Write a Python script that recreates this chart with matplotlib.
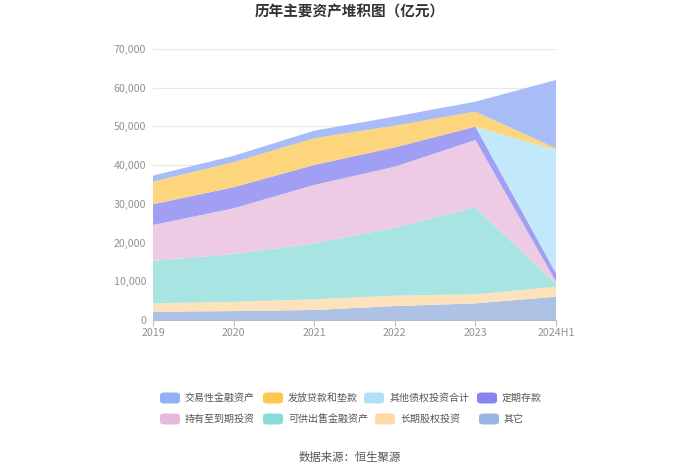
import matplotlib
matplotlib.use("Agg")
import matplotlib.pyplot as plt
from matplotlib.patches import FancyBboxPatch
from matplotlib.ticker import FuncFormatter

plt.rcParams['font.family'] = ['Noto Sans CJK SC', 'DejaVu Sans']

years = ['2019', '2020', '2021', '2022', '2023', '2024H1']
series_names = ['其它', '长期股权投资', '可供出售金融资产', '持有至到期投资',
                '定期存款', '其他债权投资合计', '发放贷款和垫款', '交易性金融资产']
other = [2150, 2300, 2600, 3600, 4300, 6020]
long_equity = [2150, 2400, 2740, 2700, 2330, 2580]
afs = [10950, 12350, 14460, 17550, 22470, 700]
htm = [9300, 11800, 15100, 15750, 17400, 600]
term_dep = [5350, 5450, 5150, 5000, 3450, 2200]
other_debt = [0, 0, 0, 0, 0, 31800]
loans = [5850, 6450, 6900, 5600, 3880, 450]
trading = [1550, 1650, 1950, 2350, 2570, 17650]

values = [other, long_equity, afs, htm, term_dep, other_debt, loans, trading]
legend_colors = {
    '交易性金融资产': '#86a6f5',
    '发放贷款和垫款': '#fdc13a',
    '其他债权投资合计': '#a8ddf8',
    '定期存款': '#7978ee',
    '持有至到期投资': '#e4b1d8',
    '可供出售金融资产': '#7dd6d4',
    '长期股权投资': '#fed49c',
    '其它': '#8facde',
}
area_colors = {
    '交易性金融资产': '#a8bcf7',
    '发放贷款和垫款': '#fdd57c',
    '其他债权投资合计': '#c2e9f9',
    '定期存款': '#a09ff4',
    '持有至到期投资': '#eecbe5',
    '可供出售金融资产': '#a8e4e2',
    '长期股权投资': '#fee2bb',
    '其它': '#aec2e6',
}

fig = plt.figure(figsize=(7.0, 4.74), dpi=100)
ax = fig.add_axes([153/700, 1-320/474, (556-153)/700, (320-49)/474])

x = list(range(len(years)))
ax.stackplot(x, *values, colors=[area_colors[n] for n in series_names],
             linewidth=0, zorder=2)

ax.set_xlim(0, len(years)-1)
ax.set_ylim(0, 70000)
ax.set_yticks(range(0, 70001, 10000))
ax.yaxis.set_major_formatter(FuncFormatter(lambda v, p: f'{int(v):,}'))
ax.set_xticks(x)
ax.set_xticklabels(years)
ax.grid(axis='y', color='#e8e8ec', linewidth=0.8, zorder=0)
ax.set_axisbelow(True)
for s in ['left', 'right', 'top']:
    ax.spines[s].set_visible(False)
ax.spines['bottom'].set_color('#b8bcc6')
ax.spines['bottom'].set_zorder(5)
ax.tick_params(axis='y', length=0, pad=5, labelsize=7.7, labelcolor='#929292')
ax.tick_params(axis='x', length=4, color='#b8bcc6', pad=1.5, labelsize=7.7,
               labelcolor='#929292')

fig.text(0.5, 1-12/474, '历年主要资产堆积图（亿元）', ha='center', va='center',
         fontsize=10.5, fontweight='bold', color='#333333')

# legend (manual layout)
rows = [
    (398, [('交易性金融资产', 160, 185), ('发放贷款和垫款', 263, 288),
           ('其他债权投资合计', 364, 390), ('定期存款', 477, 502)]),
    (419, [('持有至到期投资', 160, 185), ('可供出售金融资产', 263, 288),
           ('长期股权投资', 375, 400), ('其它', 479, 504)]),
]
W, H = 700, 474
for ypix, items in rows:
    for name, px, tx in items:
        w, h = 20, 11
        patch = FancyBboxPatch(((px)/W, 1-(ypix+h/2)/H), w/W, h/H,
                               boxstyle='round,pad=0,rounding_size=0.006',
                               transform=fig.transFigure,
                               facecolor=legend_colors[name], edgecolor='none',
                               alpha=0.9)
        fig.patches.append(patch)
        fig.text(tx/W, 1-ypix/H, name, ha='left', va='center', fontsize=7.2,
                 color='#555555')

fig.text(0.5, 1-458/474, '数据来源：恒生聚源', ha='center', va='center',
         fontsize=8.2, color='#555555')

fig.savefig('out.png', dpi=100)
